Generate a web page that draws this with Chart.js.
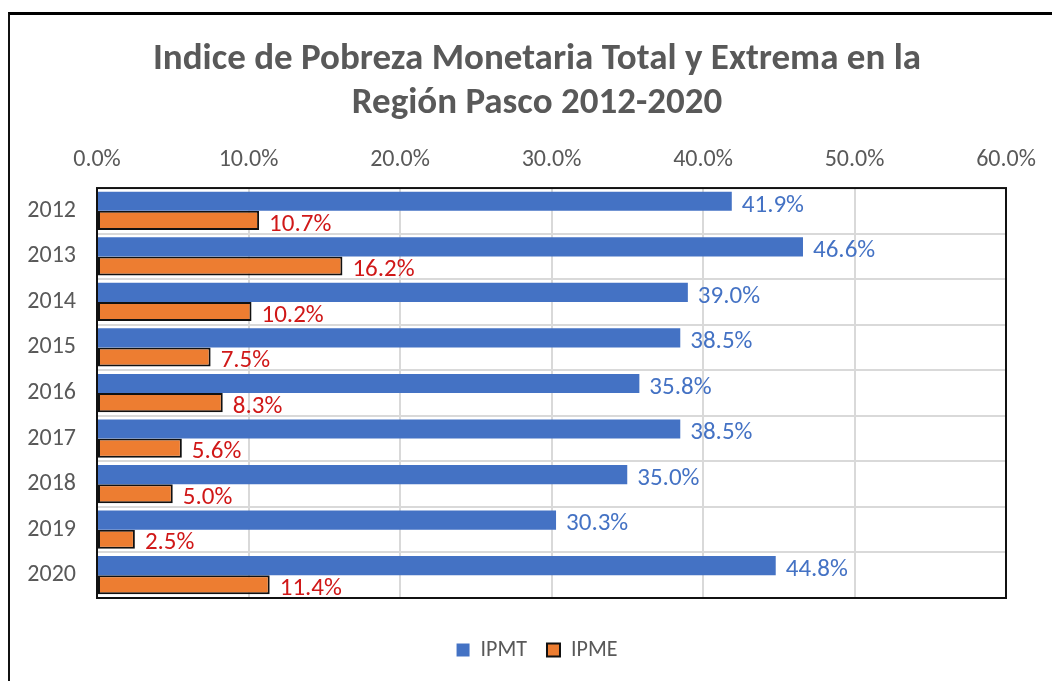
<!DOCTYPE html>
<html lang="es">
<head>
  <meta charset="UTF-8" />
  <title>Indice de Pobreza Monetaria - Pasco</title>
  <script src="https://cdn.jsdelivr.net/npm/chart.js"></script>
  <style>
    html, body { margin: 0; padding: 0; background: #fff; }
    .wrap { position: relative; width: 1052px; height: 681px; overflow: hidden; }
    .frame { position: absolute; left: 8px; top: 12px; width: 1200px; height: 800px;
             border-top: 3px solid #000; border-left: 2px solid #111; }
    canvas { position: absolute; left: 0; top: 0; }
  </style>
</head>
<body>
  <div class="wrap">
    <div class="frame"></div>
    <canvas id="pobrezaChart" width="1052" height="681"></canvas>
  </div>

  <script>
    // datos
    const years = ['2012', '2013', '2014', '2015', '2016', '2017', '2018', '2019', '2020'];
    const ipmt = [41.9, 46.6, 39.0, 38.5, 35.8, 38.5, 35.0, 30.3, 44.8];
    const ipme = [10.7, 16.2, 10.2, 7.5, 8.3, 5.6, 5.0, 2.5, 11.4];
    const xTicks = [0, 10, 20, 30, 40, 50, 60];

    const FONT = "Carlito, Lato, 'Open Sans', sans-serif";
    const gray = '#595959';

    // etiquetas de valor al final de cada barra
    const valueLabels = {
      id: 'valueLabels',
      afterDatasetsDraw(chart) {
        const ctx = chart.ctx;
        ctx.save();
        ctx.font = '25px ' + FONT;
        ctx.textBaseline = 'middle';
        ctx.textAlign = 'left';
        chart.data.datasets.forEach((ds, i) => {
          const meta = chart.getDatasetMeta(i);
          ctx.fillStyle = ds.labelColor;
          meta.data.forEach((bar, j) => {
            ctx.fillText(ds.data[j].toFixed(1) + '%', bar.x + 10, bar.y + 4);
          });
        });
        ctx.restore();
      }
    };

    // el eje y es estrecho (para centrar titulo y leyenda como en Excel);
    // se ensancha su caja tras el layout para que no recorte los años
    const widenYAxis = {
      id: 'widenYAxis',
      afterLayout(chart) {
        const y = chart.scales.y;
        y.left = 20;
        y.width = y.right - y.left;
      }
    };

    // borde negro del area de trazado
    const plotBorder = {
      id: 'plotBorder',
      afterDraw(chart) {
        const a = chart.chartArea;
        const ctx = chart.ctx;
        ctx.save();
        ctx.strokeStyle = '#111';
        ctx.lineWidth = 2;
        ctx.strokeRect(a.left, a.top, a.right - a.left, a.bottom - a.top);
        ctx.restore();
      }
    };

    const ctx = document.getElementById('pobrezaChart').getContext('2d');
    const chart = new Chart(ctx, {
      type: 'bar',
      data: {
        labels: years,
        datasets: [{
          label: 'IPMT',
          data: ipmt,
          backgroundColor: '#4472C4',
          borderWidth: 0,
          labelColor: '#4472C4'
        }, {
          label: 'IPME',
          data: ipme,
          backgroundColor: '#ED7D31',
          borderColor: '#111',
          borderWidth: 2,
          borderSkipped: false,
          labelColor: '#D01818'
        }]
      },
      options: {
        indexAxis: 'y',
        responsive: false,
        animation: false,
        categoryPercentage: 0.84,
        barPercentage: 1.0,
        layout: { padding: { left: 68, right: 46, top: 0, bottom: 10 } },
        scales: {
          x: {
            position: 'top',
            min: 0,
            max: 60,
            afterBuildTicks(scale) { scale.ticks = xTicks.map(v => ({ value: v })); },
            afterFit(scale) { scale.height = 55; },
            ticks: {
              color: gray,
              font: { family: FONT, size: 24 },
              padding: 14,
              callback: v => v.toFixed(1) + '%'
            },
            grid: { color: '#d9d9d9', lineWidth: 2, drawTicks: false },
            border: { display: false }
          },
          y: {
            afterFit(scale) { scale.width = 29; },
            ticks: {
              color: gray,
              font: { family: FONT, size: 24 },
              padding: 21
            },
            grid: { color: '#d9d9d9', lineWidth: 2, drawTicks: false, offset: true },
            border: { display: false }
          }
        },
        plugins: {
          title: {
            display: true,
            text: ['Indice de Pobreza Monetaria Total y Extrema en la', 'Región Pasco 2012-2020'],
            color: gray,
            font: { family: FONT, size: 37, weight: 'bold', lineHeight: 1.19 },
            padding: { top: 38, bottom: 7 }
          },
          legend: {
            position: 'bottom',
            title: {
              display: true,
              text: '',
              font: { size: 10, lineHeight: 1 },
              padding: { top: 5, bottom: 6 }
            },
            labels: {
              color: gray,
              font: { family: FONT, size: 22 },
              boxWidth: 13,
              boxHeight: 13,
              padding: 20
            }
          },
          tooltip: { enabled: false }
        }
      },
      plugins: [widenYAxis, valueLabels, plotBorder]
    });
  </script>
</body>
</html>
